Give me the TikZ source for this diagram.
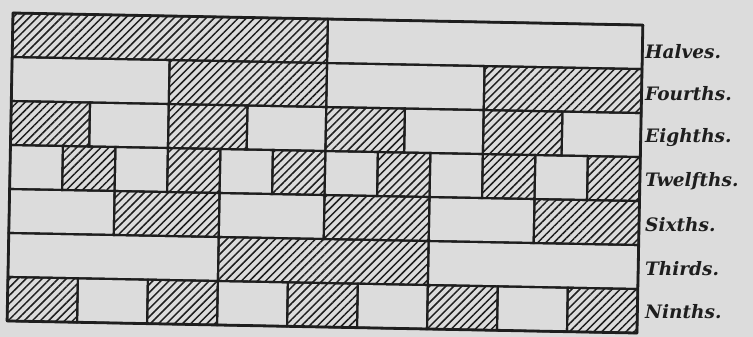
\documentclass[tikz,border=0pt]{standalone}
\usepackage{fontspec}
\setmainfont{DejaVu Serif}
\usetikzlibrary{patterns.meta}
\definecolor{paper}{HTML}{DCDCDC}
\definecolor{ink}{HTML}{1E1E1E}
\tikzset{
 hatch/.style={pattern={Lines[angle=45,distance=5.7pt,line width=1.5pt]},pattern color=ink},
 cellline/.style={draw=ink,line width=2.1pt},
 frame/.style={draw=ink,line width=2.8pt,line join=round},
 lab/.style={anchor=west,font=\bfseries\itshape\fontsize{18.5}{18.5}\selectfont,text=ink,inner sep=0pt}
}
\begin{document}
\begin{tikzpicture}[x=1pt,y=-1pt]
\fill[paper] (0,0) rectangle (753,337);
\useasboundingbox (0,0) rectangle (753,337);
\begin{scope}[shift={(13,13)},rotate=-1.1]
\foreach \n/\s [count=\r from 0] in {2/0,4/1,8/0,12/1,6/1,3/1,9/0}{
  \pgfmathsetmacro\w{630/\n}
  \foreach \i in {1,...,\n}{
    \pgfmathtruncatemacro\sh{mod(\i-1+\s,2)}
    \ifnum\sh=0
      \fill[hatch] ({(\i-1)*\w},{\r*44}) rectangle ({\i*\w},{(\r+1)*44});
    \fi
    \draw[cellline] ({(\i-1)*\w},{\r*44}) rectangle ({\i*\w},{(\r+1)*44});
  }
}
\draw[frame] (0,0) rectangle (630,308);
\end{scope}
\node[lab] (l1) at (645,52) {Halves.};
\node[lab] (l2) at (645,94) {Fourths.};
\node[lab] (l3) at (645,138) {Eighths.};
\node[lab] (l4) at (645,181) {Twelfths.};
\node[lab] (l5) at (645,225) {Sixths.};
\node[lab] (l6) at (645,269) {Thirds.};
\node[lab] (l7) at (645,312) {Ninths.};
\end{tikzpicture}
\end{document}
